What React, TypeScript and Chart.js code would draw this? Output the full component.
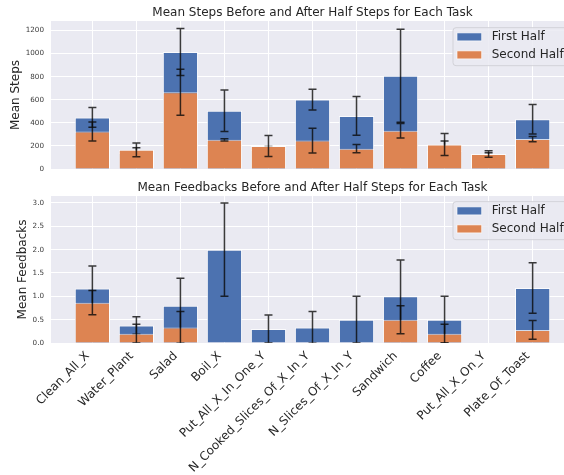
import React, { useEffect, useRef } from "react";
import { Chart, registerables } from "chart.js";

Chart.register(...registerables);

const tasks = [
  "Clean_All_X",
  "Water_Plant",
  "Salad",
  "Boil_X",
  "Put_All_X_In_One_Y",
  "N_Cooked_Slices_Of_X_In_Y",
  "N_Slices_Of_X_In_Y",
  "Sandwich",
  "Coffee",
  "Put_All_X_On_Y",
  "Plate_Of_Toast",
];

const stepsFirst = [447, 138, 1014, 505, 165, 601, 460, 808, 156, 125, 431];
const stepsFirstErr = [85, 46, 204, 180, 29, 90, 168, 402, 87, 15, 127];
const stepsSecond = [325, 166, 665, 253, 199, 246, 176, 332, 212, 130, 259];
const stepsSecondErr = [82, 60, 199, 10, 91, 107, 36, 63, 95, 28, 23];

const fbFirst = [1.17, 0.375, 0.8, 2.0, 0.3, 0.333, 0.5, 1.0, 0.5, 0, 1.18];
const fbFirstErr = [0.48, 0.19, 0.59, 1.0, 0.3, 0.34, 0.5, 0.78, 0.5, 0, 0.54];
const fbSecond = [0.865, 0.2, 0.333, 0, 0, 0, 0, 0.5, 0.2, 0, 0.28];
const fbSecondErr = [0.26, 0.2, 0.34, 0, 0, 0, 0, 0.3, 0.2, 0, 0.2];

const stepTicks = [0, 200, 400, 600, 800, 1000, 1200];
const fbTicks = [0, 0.5, 1.0, 1.5, 2.0, 2.5, 3.0];

const seriesNames = ["First Half", "Second Half"];
const BLUE = "#4C72B0";
const ORANGE = "#DD8452";
const FONT = "'DejaVu Sans', sans-serif";
const TEXT = "#262626";

const bgPlugin = {
  id: "plotBg",
  beforeDraw(chart: any) {
    const { ctx, chartArea: a } = chart;
    ctx.save();
    ctx.fillStyle = "#EAEAF2";
    ctx.fillRect(a.left, a.top, a.right - a.left, a.bottom - a.top);
    ctx.restore();
  },
};

const errPlugin = {
  id: "errBars",
  afterDatasetDraw(chart: any, args: any) {
    const ds = chart.data.datasets[args.index];
    const errs: number[] = ds.errors;
    if (!errs) return;
    const { ctx, chartArea: a } = chart;
    const ys = chart.scales.y;
    ctx.save();
    ctx.beginPath();
    ctx.rect(a.left, a.top, a.right - a.left, a.bottom - a.top);
    ctx.clip();
    ctx.strokeStyle = "rgba(10,10,10,0.8)";
    ctx.lineWidth = 1.5;
    args.meta.data.forEach((el: any, i: number) => {
      const v = ds.data[i].y;
      const e = errs[i];
      if (v === 0 && e === 0) return;
      const x = el.x;
      const yt = ys.getPixelForValue(v + e);
      const yb = ys.getPixelForValue(v - e);
      ctx.beginPath();
      ctx.moveTo(x, yt);
      ctx.lineTo(x, yb);
      ctx.moveTo(x - 4, yt);
      ctx.lineTo(x + 4, yt);
      ctx.moveTo(x - 4, yb);
      ctx.lineTo(x + 4, yb);
      ctx.stroke();
    });
    ctx.restore();
  },
};

const titleLegendPlugin = {
  id: "titleLegend",
  afterDraw(chart: any) {
    const { ctx, chartArea: a } = chart;
    const opts = chart.options.plugins.titleLegend;
    ctx.save();
    ctx.fillStyle = TEXT;
    ctx.font = `12px ${FONT}`;
    ctx.textAlign = "center";
    ctx.textBaseline = "alphabetic";
    ctx.fillText(opts.text, (a.left + a.right) / 2, a.top - 5);

    const left = a.right - 121;
    const top = a.top + opts.legendTop;
    const w = 116;
    const h = 38;
    const r = 3;
    ctx.beginPath();
    ctx.moveTo(left + r, top);
    ctx.lineTo(left + w - r, top);
    ctx.arcTo(left + w, top, left + w, top + r, r);
    ctx.lineTo(left + w, top + h - r);
    ctx.arcTo(left + w, top + h, left + w - r, top + h, r);
    ctx.lineTo(left + r, top + h);
    ctx.arcTo(left, top + h, left, top + h - r, r);
    ctx.lineTo(left, top + r);
    ctx.arcTo(left, top, left + r, top, r);
    ctx.closePath();
    ctx.fillStyle = "rgba(234,234,242,0.85)";
    ctx.fill();
    ctx.strokeStyle = "#d2d2d8";
    ctx.lineWidth = 1;
    ctx.stroke();

    const dsets = chart.data.datasets;
    dsets.forEach((d: any, i: number) => {
      const cy = top + 9.2 + i * 18;
      ctx.fillStyle = d.backgroundColor;
      ctx.fillRect(a.right - 117, cy - 4, 24.7, 8);
      ctx.strokeStyle = "rgba(255,255,255,0.8)";
      ctx.lineWidth = 0.8;
      ctx.strokeRect(a.right - 117, cy - 4, 24.7, 8);
      ctx.fillStyle = TEXT;
      ctx.font = `12px ${FONT}`;
      ctx.textAlign = "left";
      ctx.textBaseline = "middle";
      ctx.fillText(d.label, a.right - 82.3, cy);
    });
    ctx.restore();
  },
};

function buildConfig(
  first: number[],
  firstErr: number[],
  second: number[],
  secondErr: number[],
  yMax: number,
  yTicks: number[],
  fmt: (v: number) => string,
  yTitle: string,
  yTitlePad: number,
  title: string,
  showLabels: boolean,
  xHeight: number,
  legendTop: number
): any {
  const scales: any = {
    x: {
      type: "linear",
      position: "bottom",
      min: -0.94,
      max: 10.94,
      offset: false,
      weight: 2,
      grid: { color: "#ffffff", lineWidth: 1, drawTicks: false, offset: false },
      border: { display: false },
      afterBuildTicks: (s: any) => {
        s.ticks = tasks.map((_, i) => ({ value: i }));
      },
      afterFit: (s: any) => {
        s.height = showLabels ? 0 : xHeight;
        s.paddingLeft = 0;
        s.paddingRight = 0;
      },
      ticks: { display: false },
    },
    y: {
      type: "linear",
      min: 0,
      max: yMax,
      grid: { color: "#ffffff", lineWidth: 1, drawTicks: false },
      border: { display: false },
      afterBuildTicks: (s: any) => {
        s.ticks = yTicks.map((v) => ({ value: v }));
      },
      afterFit: (s: any) => {
        s.width = 51;
        s.paddingTop = 0;
        s.paddingBottom = 0;
      },
      ticks: {
        padding: 7,
        color: "#3a3a3a",
        font: { family: FONT, size: 7.2 },
        callback: (v: number) => fmt(v),
      },
      title: {
        display: true,
        text: yTitle,
        color: TEXT,
        font: { family: FONT, size: 12 },
        padding: { top: yTitlePad, bottom: 0 },
      },
    },
  };
  if (showLabels) {
    scales.xl = {
      type: "linear",
      axis: "x",
      position: "bottom",
      min: -0.94,
      max: 10.94,
      offset: false,
      weight: 1,
      grid: { display: false, drawTicks: false },
      border: { display: false },
      afterBuildTicks: (s: any) => {
        s.ticks = tasks.map((_, i) => ({ value: i - 0.11 }));
      },
      afterFit: (s: any) => {
        s.height = xHeight;
        s.paddingLeft = 0;
        s.paddingRight = 0;
      },
      ticks: {
        autoSkip: false,
        minRotation: 45,
        maxRotation: 45,
        padding: 6,
        color: TEXT,
        font: { family: FONT, size: 12 },
        callback: (v: number) => tasks[Math.round(v)] ?? "",
      },
    };
  }
  return {
    type: "bar",
    data: {
      datasets: [
        {
          label: seriesNames[0],
          data: first.map((y, i) => ({ x: i, y })),
          errors: firstErr,
          xAxisID: "x",
          backgroundColor: BLUE,
          borderColor: "rgba(255,255,255,0.75)",
          borderWidth: 1,
          order: 2,
          grouped: false,
          barPercentage: 0.8,
          categoryPercentage: 1.0,
        },
        {
          label: seriesNames[1],
          data: second.map((y, i) => ({ x: i, y })),
          errors: secondErr,
          xAxisID: "x",
          backgroundColor: ORANGE,
          borderColor: "rgba(255,255,255,0.75)",
          borderWidth: 1,
          order: 1,
          grouped: false,
          barPercentage: 0.8,
          categoryPercentage: 1.0,
        },
      ],
    },
    options: {
      animation: false,
      responsive: false,
      devicePixelRatio: 1,
      layout: { padding: { top: 21, left: 0, right: 6, bottom: 0 } },
      plugins: {
        legend: { display: false },
        tooltip: { enabled: false },
        title: { display: false },
        titleLegend: { text: title, legendTop },
      },
      scales,
    },
    plugins: [bgPlugin, errPlugin, titleLegendPlugin],
  };
}

export default function App() {
  const topRef = useRef<HTMLCanvasElement>(null);
  const botRef = useRef<HTMLCanvasElement>(null);

  useEffect(() => {
    const c1 = new Chart(
      topRef.current as HTMLCanvasElement,
      buildConfig(
        stepsFirst,
        stepsFirstErr,
        stepsSecond,
        stepsSecondErr,
        1282,
        stepTicks,
        (v) => String(v),
        "Mean Steps",
        8.8,
        "Mean Steps Before and After Half Steps for Each Task",
        false,
        6,
        6.7
      )
    );
    const c2 = new Chart(
      botRef.current as HTMLCanvasElement,
      buildConfig(
        fbFirst,
        fbFirstErr,
        fbSecond,
        fbSecondErr,
        3.15,
        fbTicks,
        (v) => v.toFixed(1),
        "Mean Feedbacks",
        15.8,
        "Mean Feedbacks Before and After Half Steps for Each Task",
        true,
        132,
        5.7
      )
    );
    return () => {
      c1.destroy();
      c2.destroy();
    };
  }, []);

  return (
    <div
      style={{
        position: "fixed",
        left: 0,
        top: 0,
        width: 564,
        height: 475,
        overflow: "hidden",
        background: "#ffffff",
      }}
    >
      <canvas
        ref={topRef}
        width={580}
        height={175}
        style={{ position: "absolute", left: 0, top: 0, width: 580, height: 175 }}
      />
      <canvas
        ref={botRef}
        width={580}
        height={300}
        style={{ position: "absolute", left: 0, top: 175, width: 580, height: 300 }}
      />
    </div>
  );
}
